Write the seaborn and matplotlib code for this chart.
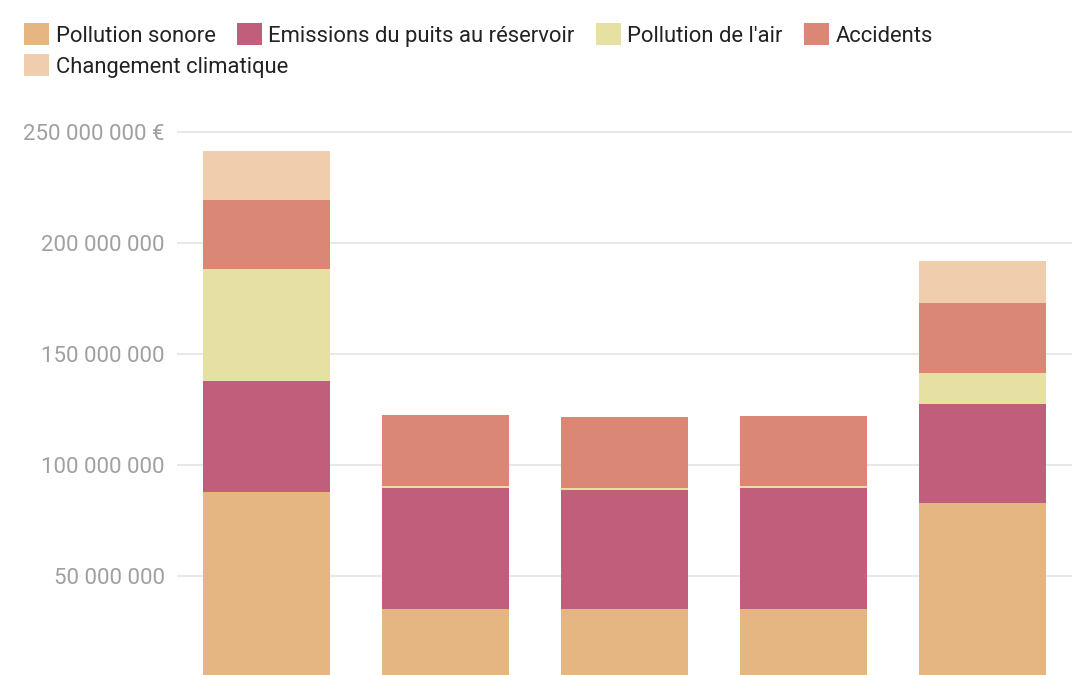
import matplotlib
matplotlib.use("Agg")
import matplotlib.pyplot as plt
from matplotlib.patches import Patch
from matplotlib.ticker import FuncFormatter
import seaborn as sns
import pandas as pd
import numpy as np

categories = ["Scénario 1", "Scénario 2", "Scénario 3", "Scénario 4", "Scénario 5"]
series_names = ["Pollution sonore", "Emissions du puits au réservoir",
                "Pollution de l'air", "Accidents", "Changement climatique"]
pollution_sonore = [87.8e6, 35.0e6, 35.0e6, 35.0e6, 83.0e6]
emissions_puits = [50.0e6, 54.7e6, 53.9e6, 54.8e6, 44.5e6]
pollution_air = [50.5e6, 0.7e6, 0.7e6, 0.7e6, 13.9e6]
accidents = [31.1e6, 32.3e6, 31.9e6, 31.7e6, 31.6e6]
changement_climatique = [21.9e6, 0.0, 0.0, 0.0, 18.9e6]
colors = ["#E5B582", "#C05E7C", "#E6E1A3", "#DB8776", "#F0CDAC"]
yticks = [50e6, 100e6, 150e6, 200e6, 250e6]

sns.set_theme(style="white")
plt.rcParams["font.family"] = ["Roboto", "DejaVu Sans"]

W, H = 1080, 675
fig = plt.figure(figsize=(W / 100, H / 100), dpi=100)
ymax = 255e6
y0_px, y250_px = 687, 132
px_per_unit = (y0_px - y250_px) / 250e6
top_px = y0_px - ymax * px_per_unit
ax = fig.add_axes([177 / W, 1 - y0_px / H, 895 / W, (y0_px - top_px) / H])

values = [pollution_sonore, emissions_puits, pollution_air, accidents, changement_climatique]
df = pd.DataFrame({name: v for name, v in zip(series_names, values)}, index=categories)
cum = df.cumsum(axis=1)

# draw from top layer to bottom so lower layers overlay
for name, col in reversed(list(zip(series_names, colors))):
    sns.barplot(x=categories, y=cum[name].values, color=col, width=0.71,
                saturation=1, ax=ax, zorder=3, linewidth=0, edgecolor="none")

ax.set_ylim(0, ymax)
ax.set_xlim(-0.5, len(categories) - 0.5)
ax.set_yticks(yticks)

def fmt(v, pos):
    s = f"{int(v):,}".replace(",", " ")
    if v == max(yticks):
        s += " €"
    return s

ax.yaxis.set_major_formatter(FuncFormatter(fmt))
ax.tick_params(axis="y", length=0, pad=9, labelsize=16, labelcolor="#a0a0a0")
ax.tick_params(axis="x", length=0, labelbottom=False)
ax.grid(axis="y", color="#e8e8e8", linewidth=1.5, zorder=0)
ax.grid(axis="x", visible=False)
for s in ax.spines.values():
    s.set_visible(False)
ax.set_xlabel("")
ax.set_ylabel("")

handles = [Patch(facecolor=c, edgecolor="none") for c in colors]
leg_kw = dict(frameon=False, fontsize=15.8, handlelength=1.15, handleheight=1.2,
              handletextpad=0.3, columnspacing=0.95, borderpad=0, borderaxespad=0,
              loc="upper left", labelcolor="#222222")
leg1 = fig.legend(handles[:4], series_names[:4], ncol=4,
                  bbox_to_anchor=(24 / W, 1 - 23 / H), **leg_kw)
leg2 = fig.legend(handles[4:], series_names[4:], ncol=1,
                  bbox_to_anchor=(24 / W, 1 - 54 / H), **leg_kw)

fig.savefig("out.png", dpi=100)
